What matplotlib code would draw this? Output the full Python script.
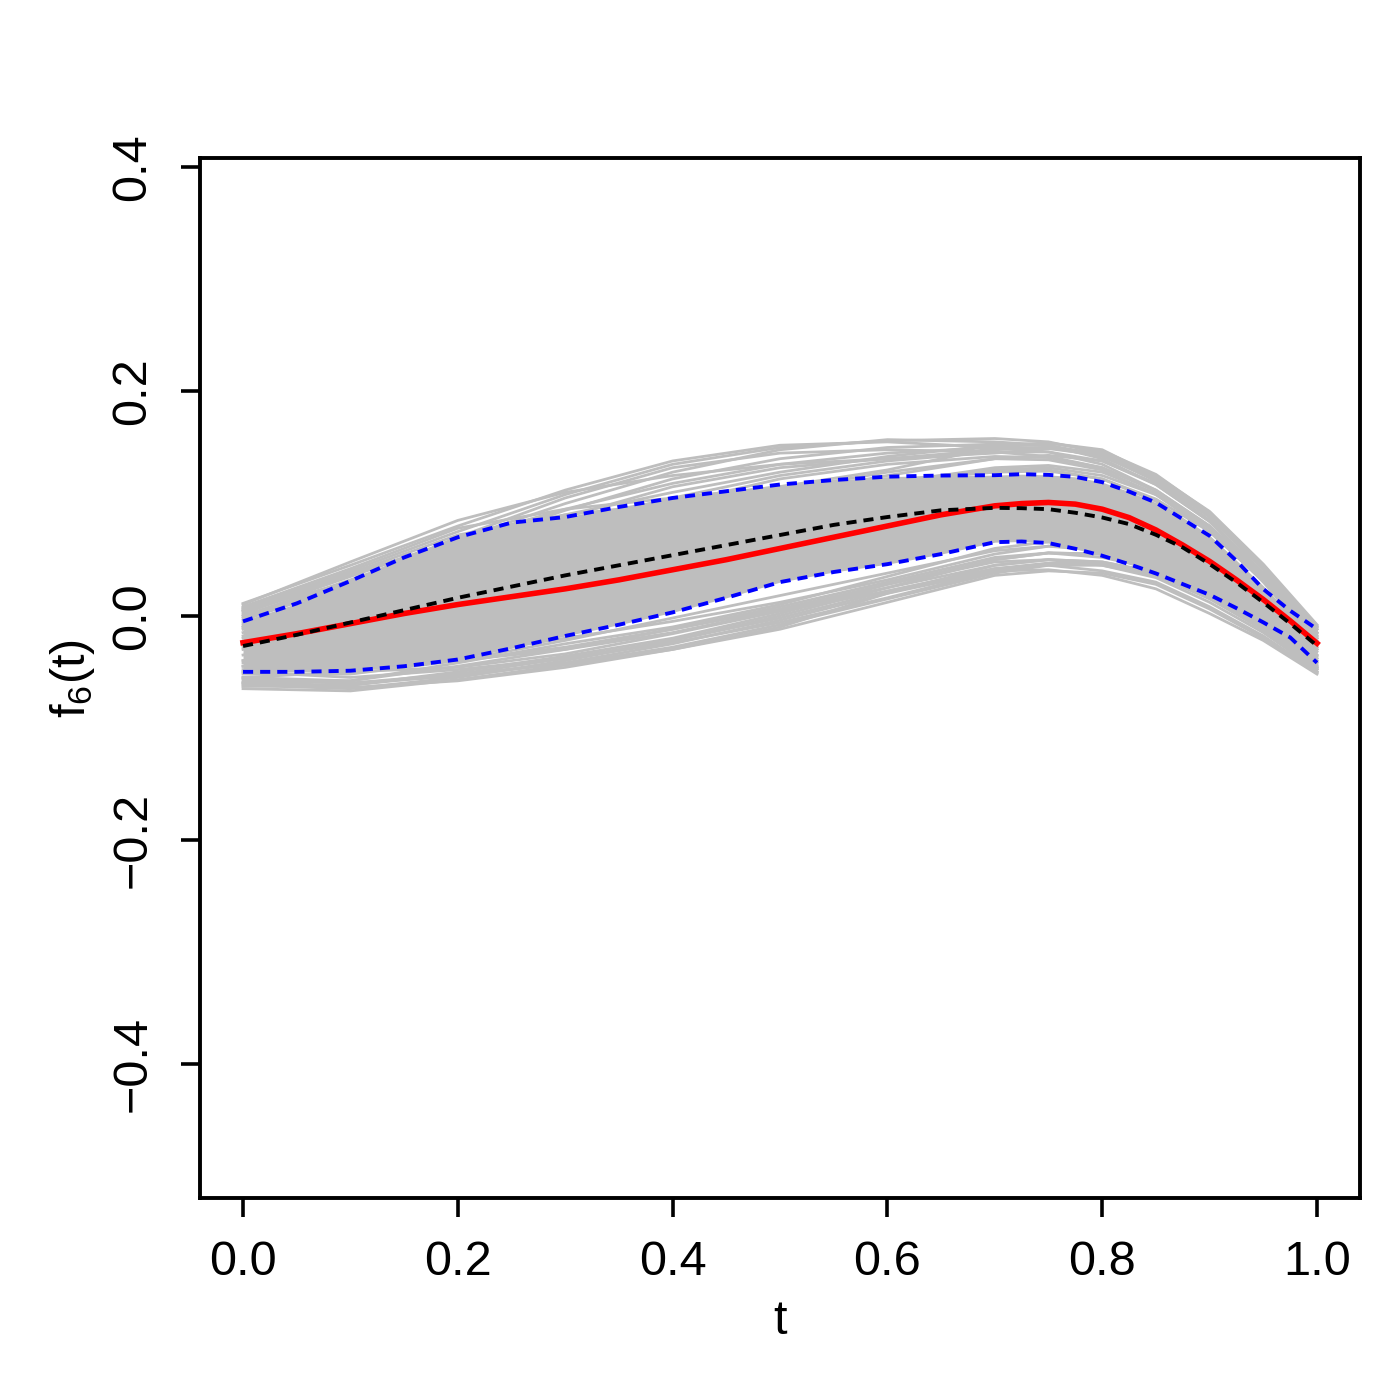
import numpy as np
import matplotlib
matplotlib.use("Agg")
import matplotlib.pyplot as plt

plt.rcParams['font.family'] = ['Liberation Sans', 'DejaVu Sans']
plt.rcParams['mathtext.fontset'] = 'custom'
plt.rcParams['mathtext.rm'] = 'Liberation Sans'
plt.rcParams['mathtext.it'] = 'Liberation Sans'

# grid for the summary curves (finer near the peak and the drop)
t_fine = np.concatenate([np.linspace(0, 0.7, 15), np.linspace(0.725, 1.0, 12)])
# grid for the individual gray curves
t_gray = np.array([0, 0.1, 0.2, 0.3, 0.4, 0.5, 0.6, 0.7, 0.75, 0.8, 0.85, 0.9, 0.95, 1.0])

red_est = [-0.024, -0.016, -0.007, 0.002, 0.010, 0.017, 0.024, 0.032, 0.041, 0.050, 0.060,
           0.070, 0.080, 0.090, 0.098,
           0.100, 0.101, 0.0995, 0.095, 0.0875, 0.0765, 0.063, 0.0485, 0.032, 0.0145, -0.0045, -0.0245]
black_true = [-0.027, -0.017, -0.006, 0.005, 0.016, 0.026, 0.036, 0.045, 0.054, 0.063, 0.072,
              0.081, 0.088, 0.094, 0.0962,
              0.0959, 0.0950, 0.0918, 0.0876, 0.0817, 0.0722, 0.0609, 0.0461, 0.0297, 0.0119, -0.0069, -0.0267]
blue_hi = [-0.005, 0.011, 0.031, 0.052, 0.070, 0.083, 0.088, 0.097, 0.105, 0.111, 0.117,
           0.121, 0.124, 0.125, 0.1253,
           0.1262, 0.1256, 0.1238, 0.1191, 0.1107, 0.1009, 0.0861, 0.0713, 0.0490, 0.0238, 0.0045, -0.0119]
blue_lo = [-0.050, -0.050, -0.049, -0.045, -0.039, -0.029, -0.018, -0.008, 0.003, 0.016, 0.030,
           0.039, 0.046, 0.055, 0.0656,
           0.0662, 0.0648, 0.0597, 0.0535, 0.0460, 0.0377, 0.0282, 0.0187, 0.0068, -0.0059, -0.0193, -0.0419]

gray_curves = [
    [0.011, 0.045, 0.080, 0.112, 0.138, 0.152, 0.155, 0.150, 0.146, 0.135, 0.112, 0.080, 0.036, -0.012],
    [0.006, 0.040, 0.075, 0.108, 0.135, 0.150, 0.156, 0.158, 0.155, 0.145, 0.124, 0.092, 0.045, -0.009],
    [0.002, 0.035, 0.068, 0.100, 0.128, 0.148, 0.157, 0.155, 0.152, 0.140, 0.117, 0.084, 0.038, -0.015],
    [0.008, 0.042, 0.078, 0.095, 0.105, 0.115, 0.130, 0.150, 0.154, 0.148, 0.124, 0.088, 0.042, -0.010],
    [-0.004, 0.028, 0.062, 0.094, 0.122, 0.140, 0.150, 0.153, 0.152, 0.143, 0.120, 0.085, 0.037, -0.018],
    [0.000, 0.032, 0.065, 0.085, 0.098, 0.112, 0.128, 0.140, 0.139, 0.130, 0.108, 0.075, 0.031, -0.020],
    [-0.010, 0.020, 0.055, 0.088, 0.115, 0.132, 0.140, 0.145, 0.149, 0.143, 0.122, 0.090, 0.043, -0.012],
    [0.004, 0.038, 0.072, 0.090, 0.100, 0.108, 0.118, 0.132, 0.134, 0.128, 0.109, 0.078, 0.031, -0.022],
    [-0.008, 0.015, 0.042, 0.072, 0.100, 0.122, 0.135, 0.142, 0.141, 0.132, 0.111, 0.078, 0.030, -0.025],
    [-0.015, 0.010, 0.040, 0.065, 0.088, 0.108, 0.125, 0.140, 0.143, 0.138, 0.118, 0.085, 0.036, -0.020],
    [-0.020, 0.000, 0.025, 0.050, 0.075, 0.095, 0.110, 0.120, 0.120, 0.112, 0.094, 0.065, 0.022, -0.028],
    [-0.030, -0.012, 0.010, 0.035, 0.058, 0.080, 0.100, 0.112, 0.113, 0.105, 0.088, 0.060, 0.018, -0.030],
    [-0.025, -0.005, 0.020, 0.040, 0.060, 0.078, 0.092, 0.100, 0.100, 0.092, 0.077, 0.050, 0.012, -0.032],
    [-0.035, -0.020, 0.000, 0.022, 0.045, 0.068, 0.088, 0.102, 0.104, 0.098, 0.082, 0.055, 0.013, -0.035],
    [-0.040, -0.028, -0.010, 0.012, 0.035, 0.058, 0.080, 0.095, 0.097, 0.090, 0.076, 0.050, 0.009, -0.038],
    [-0.018, 0.005, 0.030, 0.052, 0.070, 0.085, 0.098, 0.108, 0.108, 0.100, 0.085, 0.058, 0.017, -0.030],
    [-0.045, -0.035, -0.020, 0.000, 0.022, 0.045, 0.068, 0.085, 0.088, 0.082, 0.069, 0.045, 0.006, -0.040],
    [-0.028, -0.015, 0.002, 0.020, 0.040, 0.062, 0.085, 0.100, 0.104, 0.100, 0.087, 0.062, 0.020, -0.028],
    [-0.065, -0.067, -0.057, -0.044, -0.030, -0.010, 0.020, 0.040, 0.041, 0.036, 0.024, 0.002, -0.022, -0.052],
    [-0.062, -0.065, -0.055, -0.040, -0.022, -0.002, 0.022, 0.042, 0.045, 0.040, 0.030, 0.008, -0.018, -0.050],
    [-0.060, -0.062, -0.050, -0.036, -0.020, 0.002, 0.028, 0.048, 0.050, 0.045, 0.034, 0.012, -0.015, -0.048],
    [-0.058, -0.060, -0.052, -0.043, -0.028, -0.008, 0.015, 0.038, 0.045, 0.045, 0.036, 0.015, -0.012, -0.045],
    [-0.055, -0.058, -0.045, -0.030, -0.012, 0.008, 0.030, 0.052, 0.056, 0.052, 0.042, 0.020, -0.010, -0.046],
    [-0.052, -0.052, -0.040, -0.022, -0.002, 0.018, 0.038, 0.058, 0.062, 0.058, 0.047, 0.025, -0.006, -0.042],
    [-0.050, -0.055, -0.048, -0.038, -0.022, 0.000, 0.025, 0.050, 0.056, 0.055, 0.044, 0.022, -0.008, -0.044],
    [-0.048, -0.045, -0.035, -0.020, -0.005, 0.012, 0.032, 0.055, 0.062, 0.060, 0.051, 0.030, -0.002, -0.040],
    [-0.060, -0.058, -0.042, -0.025, -0.010, 0.010, 0.035, 0.060, 0.066, 0.065, 0.055, 0.032, 0.000, -0.038],
    [-0.042, -0.045, -0.040, -0.030, -0.015, 0.005, 0.025, 0.045, 0.050, 0.048, 0.039, 0.018, -0.012, -0.048],
    [-0.012, 0.020, 0.050, 0.075, 0.095, 0.110, 0.120, 0.128, 0.129, 0.122, 0.104, 0.075, 0.031, -0.020],
    [0.000, 0.025, 0.050, 0.070, 0.090, 0.105, 0.118, 0.130, 0.132, 0.125, 0.108, 0.078, 0.033, -0.018],
    [-0.040, -0.020, 0.010, 0.045, 0.080, 0.105, 0.120, 0.130, 0.130, 0.122, 0.102, 0.070, 0.025, -0.025],
    [0.005, 0.030, 0.050, 0.060, 0.068, 0.075, 0.085, 0.095, 0.096, 0.090, 0.075, 0.050, 0.012, -0.030],
    [-0.055, -0.050, -0.030, -0.005, 0.020, 0.045, 0.070, 0.090, 0.093, 0.088, 0.073, 0.048, 0.010, -0.036],
    [-0.010, 0.005, 0.020, 0.030, 0.040, 0.050, 0.062, 0.075, 0.078, 0.075, 0.064, 0.042, 0.008, -0.035],
    [0.010, 0.048, 0.085, 0.110, 0.125, 0.135, 0.140, 0.148, 0.150, 0.145, 0.125, 0.093, 0.046, -0.008],
    [-0.002, 0.030, 0.070, 0.105, 0.132, 0.145, 0.148, 0.146, 0.142, 0.132, 0.112, 0.080, 0.035, -0.015],
    [0.004, 0.036, 0.068, 0.095, 0.118, 0.135, 0.145, 0.150, 0.150, 0.142, 0.121, 0.088, 0.041, -0.012],
    [-0.006, 0.022, 0.058, 0.082, 0.105, 0.125, 0.138, 0.146, 0.146, 0.138, 0.117, 0.084, 0.038, -0.016],
    [0.007, 0.038, 0.065, 0.090, 0.110, 0.128, 0.142, 0.152, 0.154, 0.147, 0.126, 0.092, 0.044, -0.010],
    [-0.063, -0.062, -0.052, -0.038, -0.024, -0.006, 0.016, 0.040, 0.046, 0.046, 0.038, 0.018, -0.010, -0.046],
    [-0.056, -0.060, -0.054, -0.042, -0.025, -0.004, 0.020, 0.045, 0.050, 0.048, 0.038, 0.016, -0.013, -0.050],
    [-0.050, -0.048, -0.040, -0.028, -0.012, 0.006, 0.028, 0.050, 0.056, 0.055, 0.046, 0.026, -0.004, -0.042],
    [-0.045, -0.050, -0.046, -0.034, -0.016, 0.004, 0.022, 0.042, 0.047, 0.046, 0.038, 0.018, -0.012, -0.047],
    [-0.060, -0.064, -0.058, -0.046, -0.030, -0.012, 0.012, 0.036, 0.040, 0.038, 0.028, 0.006, -0.020, -0.051],
]

xticks = [0.0, 0.2, 0.4, 0.6, 0.8, 1.0]
yticks = [-0.4, -0.2, 0.0, 0.2, 0.4]
xlabels = ["0.0", "0.2", "0.4", "0.6", "0.8", "1.0"]
ylabels = ["\u22120.4", "\u22120.2", "0.0", "0.2", "0.4"]

fig = plt.figure(figsize=(7, 7), dpi=200)
ax = fig.add_axes([0.1429, 0.1443, 0.8285, 0.7428])

gray = '#bebebe'
# dense core of the gray bundle
ax.fill_between(t_fine, blue_lo, blue_hi, color=gray, lw=0)
for c in gray_curves:
    ax.plot(t_gray, c, color=gray, lw=1.0)

dash = (0, (2.6, 1.8))
ax.plot(t_fine, blue_hi, color='blue', lw=1.4, ls=dash)
ax.plot(t_fine, blue_lo, color='blue', lw=1.4, ls=dash)
ax.plot(t_fine, red_est, color='red', lw=2.0)
ax.plot(t_fine, black_true, color='black', lw=1.4, ls=dash)

ax.set_xlim(-0.04, 1.04)
ax.set_ylim(-0.519, 0.408)
ax.set_xticks(xticks)
ax.set_xticklabels(xlabels)
ax.set_yticks(yticks)
ax.set_yticklabels(ylabels, rotation=90, va='center')
ax.tick_params(direction='out', length=7, width=1.3, labelsize=17.5, pad=8)
ax.tick_params(axis='y', pad=9)
for s in ax.spines.values():
    s.set_linewidth(1.4)

ax.set_xlabel('t', fontsize=17.5, labelpad=5)
ax.set_ylabel('$\\mathregular{f_6(t)}$', fontsize=17.5, labelpad=5)

fig.savefig('out.png', dpi=200)
